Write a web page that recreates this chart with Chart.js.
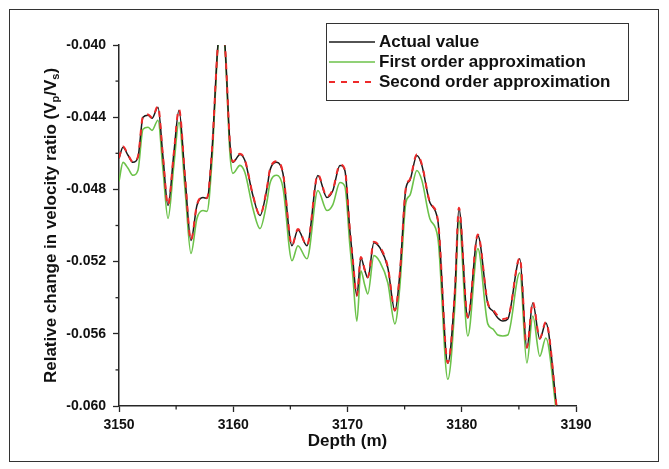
<!DOCTYPE html>
<html>
<head>
<meta charset="utf-8">
<title>Velocity ratio vs depth</title>
<script src="https://cdn.jsdelivr.net/npm/chart.js@4.4.1/dist/chart.umd.min.js"></script>
<style>
  html, body { margin: 0; padding: 0; background: #ffffff; }
  #wrap { width: 669px; height: 469px; position: relative; }
</style>
</head>
<body>
<div id="wrap"><canvas id="ratioChart"></canvas></div>
<script>
// Depth samples (m)
const depths = [
  3150.00, 3150.35, 3150.79, 3151.22, 3151.66, 3152.10, 3152.54, 3152.89, 3153.41, 3153.85,
  3154.29, 3154.80, 3155.25, 3155.80, 3156.30, 3156.82, 3157.35, 3157.70, 3158.14, 3158.66,
  3158.97, 3159.27, 3159.71, 3159.97, 3160.59, 3161.02, 3161.72, 3162.34, 3162.95, 3163.21,
  3163.82, 3164.35, 3165.14, 3165.66, 3166.45, 3167.41, 3168.20, 3168.72, 3169.34, 3169.77,
  3170.21, 3170.47, 3170.82, 3171.17, 3171.52, 3171.78, 3172.31, 3172.83, 3173.53, 3174.15,
  3174.58, 3175.11, 3175.46, 3176.07, 3176.51, 3177.21, 3177.91, 3178.78, 3179.40, 3179.75,
  3180.53, 3181.41, 3182.28, 3182.72, 3183.16, 3183.60, 3184.03, 3185.08, 3185.70, 3186.22,
  3186.83, 3187.36, 3188.32
];

const actualValues = [
  -0.04628, -0.04567, -0.04611, -0.04650, -0.04622, -0.04400, -0.04389, -0.04406, -0.04345, -0.04620,
  -0.04889, -0.04600, -0.04361, -0.04750, -0.05083, -0.04889, -0.04845, -0.04850, -0.04584, -0.04000,
  -0.03920, -0.04000, -0.04545, -0.04650, -0.04606, -0.04640, -0.04834, -0.04945, -0.04795, -0.04695,
  -0.04650, -0.04712, -0.05112, -0.05023, -0.05112, -0.04723, -0.04845, -0.04806, -0.04667, -0.04695,
  -0.05029, -0.05195, -0.05390, -0.05179, -0.05250, -0.05290, -0.05095, -0.05123, -0.05234, -0.05473,
  -0.05268, -0.04795, -0.04750, -0.04612, -0.04667, -0.04873, -0.04973, -0.05763, -0.05362, -0.04906,
  -0.05512, -0.05056, -0.05434, -0.05473, -0.05512, -0.05529, -0.05518, -0.05184, -0.05679, -0.05429,
  -0.05629, -0.05540, -0.06012
];

const firstOrderValues = [
  -0.04756, -0.04650, -0.04683, -0.04722, -0.04694, -0.04467, -0.04456, -0.04473, -0.04417, -0.04692,
  -0.04961, -0.04667, -0.04428, -0.04817, -0.05155, -0.04961, -0.04917, -0.04922, -0.04640, -0.04011,
  -0.03920, -0.04011, -0.04601, -0.04711, -0.04667, -0.04707, -0.04906, -0.05017, -0.04867, -0.04767,
  -0.04722, -0.04790, -0.05195, -0.05112, -0.05184, -0.04806, -0.04917, -0.04884, -0.04762, -0.04784,
  -0.05112, -0.05284, -0.05530, -0.05251, -0.05333, -0.05379, -0.05167, -0.05201, -0.05317, -0.05545,
  -0.05340, -0.04873, -0.04833, -0.04695, -0.04750, -0.04962, -0.05068, -0.05852, -0.05440, -0.04973,
  -0.05612, -0.05128, -0.05545, -0.05573, -0.05607, -0.05612, -0.05607, -0.05262, -0.05762, -0.05501,
  -0.05724, -0.05623, -0.06050
];

const secondOrderValues = [
  -0.04625, -0.04562, -0.04608, -0.04648, -0.04618, -0.04396, -0.04385, -0.04402, -0.04340, -0.04618,
  -0.04887, -0.04597, -0.04356, -0.04748, -0.05081, -0.04886, -0.04842, -0.04847, -0.04581, -0.04000,
  -0.03920, -0.04000, -0.04542, -0.04647, -0.04602, -0.04636, -0.04831, -0.04942, -0.04790, -0.04690,
  -0.04644, -0.04708, -0.05110, -0.05020, -0.05110, -0.04718, -0.04840, -0.04800, -0.04662, -0.04690,
  -0.05026, -0.05192, -0.05388, -0.05175, -0.05246, -0.05286, -0.05090, -0.05118, -0.05230, -0.05470,
  -0.05265, -0.04791, -0.04745, -0.04606, -0.04662, -0.04869, -0.04970, -0.05760, -0.05359, -0.04902,
  -0.05509, -0.05050, -0.05428, -0.05465, -0.05500, -0.05518, -0.05510, -0.05179, -0.05676, -0.05424,
  -0.05625, -0.05535, -0.06012
];

const seriesLabels = ["Actual value", "First order approximation", "Second order approximation"];
const xMajorTicks = [3150, 3160, 3170, 3180, 3190];
const xMinorTicks = [3155, 3165, 3175, 3185];
const yMajorTicks = [-0.060, -0.056, -0.052, -0.048, -0.044, -0.040];
const yMinorTicks = [-0.058, -0.054, -0.050, -0.046, -0.042];

const AXIS_COLOR = "#262626";
const FONT = "'Liberation Sans', Arial, sans-serif";

function toPoints(values) {
  return depths.map((d, i) => ({ x: d, y: values[i] }));
}

// minor ticks, y title with subscripts, outer frame and boxed legend
const decorations = {
  id: "decorations",
  afterDraw(chart) {
    const ctx = chart.ctx;
    const xs = chart.scales.x;
    const ys = chart.scales.y;
    const area = chart.chartArea;

    ctx.save();
    ctx.strokeStyle = AXIS_COLOR;
    ctx.lineWidth = 1.3;
    xMinorTicks.forEach((v) => {
      const px = xs.getPixelForValue(v);
      ctx.beginPath();
      ctx.moveTo(px, area.bottom);
      ctx.lineTo(px, area.bottom + 3.5);
      ctx.stroke();
    });
    yMinorTicks.forEach((v) => {
      const py = ys.getPixelForValue(v);
      ctx.beginPath();
      ctx.moveTo(area.left, py);
      ctx.lineTo(area.left - 3.5, py);
      ctx.stroke();
    });

    // outer figure frame
    ctx.lineWidth = 1;
    ctx.strokeStyle = "#333333";
    ctx.strokeRect(9.5, 9.5, 649, 452);

    // y axis title, rotated, with V_p / V_s subscripts
    const parts = [
      { t: "Relative change in velocity ratio (V", sub: false },
      { t: "p", sub: true },
      { t: "/V", sub: false },
      { t: "s", sub: true },
      { t: ")", sub: false },
    ];
    const mainFont = "bold 17px " + FONT;
    const subFont = "bold 11px " + FONT;
    let total = 0;
    parts.forEach((p) => {
      ctx.font = p.sub ? subFont : mainFont;
      p.w = ctx.measureText(p.t).width;
      total += p.w;
    });
    ctx.translate(50, (area.top + area.bottom) / 2);
    ctx.rotate(-Math.PI / 2);
    ctx.fillStyle = "#111111";
    ctx.textBaseline = "alphabetic";
    ctx.textAlign = "left";
    let cx = -total / 2;
    parts.forEach((p) => {
      ctx.font = p.sub ? subFont : mainFont;
      ctx.fillText(p.t, cx, p.sub ? 9 : 6);
      cx += p.w;
    });
    ctx.restore();

    // legend box
    ctx.save();
    const box = { x: 326.5, y: 23.5, w: 302, h: 77 };
    ctx.fillStyle = "#ffffff";
    ctx.fillRect(box.x, box.y, box.w, box.h);
    ctx.strokeStyle = "#333333";
    ctx.lineWidth = 1;
    ctx.strokeRect(box.x, box.y, box.w, box.h);
    ctx.font = "bold 17px " + FONT;
    ctx.textBaseline = "middle";
    ctx.fillStyle = "#111111";
    const rows = [42, 62, 82];
    chart.data.datasets.forEach((ds, i) => {
      const y = rows[i];
      ctx.strokeStyle = ds.borderColor;
      ctx.lineWidth = ds.borderWidth;
      ctx.setLineDash(ds.borderDash || []);
      ctx.beginPath();
      ctx.moveTo(329, y);
      ctx.lineTo(375, y);
      ctx.stroke();
      ctx.setLineDash([]);
      ctx.fillText(ds.label, 379, y);
    });
    ctx.restore();
  },
};

const ctx = document.getElementById("ratioChart");

new Chart(ctx.getContext("2d"), {
  type: "line",
  data: {
    datasets: [
      {
        label: seriesLabels[0],
        data: toPoints(actualValues),
        borderColor: "#1a1a1a",
        borderWidth: 1.5,
        order: 1,
      },
      {
        label: seriesLabels[1],
        data: toPoints(firstOrderValues),
        borderColor: "#6cc24a",
        borderWidth: 1.6,
        order: 2,
      },
      {
        label: seriesLabels[2],
        data: toPoints(secondOrderValues),
        borderColor: "#ee2a2a",
        borderWidth: 2,
        borderDash: [6, 6],
        order: 0,
      },
    ],
  },
  options: {
    responsive: true,
    maintainAspectRatio: false,
    animation: false,
    layout: {
      padding: { left: 0, right: 93, top: 45, bottom: 0 },
    },
    elements: {
      point: { radius: 0 },
      line: { cubicInterpolationMode: "monotone", fill: false },
    },
    plugins: {
      legend: { display: false },
      tooltip: { enabled: false },
    },
    scales: {
      x: {
        type: "linear",
        min: 3150,
        max: 3190,
        afterBuildTicks: (scale) => {
          scale.ticks = xMajorTicks.map((v) => ({ value: v }));
        },
        afterFit: (scale) => {
          scale.height = 63;
        },
        grid: {
          drawOnChartArea: false,
          drawTicks: true,
          tickLength: 6,
          tickColor: AXIS_COLOR,
          tickWidth: 1.3,
        },
        border: { display: true, color: AXIS_COLOR, width: 1.5 },
        ticks: {
          color: "#111111",
          padding: 5,
          maxRotation: 0,
          font: { family: FONT, size: 14, weight: "bold" },
          callback: (value) => String(value),
        },
        title: {
          display: true,
          text: "Depth (m)",
          color: "#111111",
          font: { family: FONT, size: 17, weight: "bold" },
          padding: { top: 0, bottom: 17 },
        },
      },
      y: {
        type: "linear",
        min: -0.06,
        max: -0.04,
        afterBuildTicks: (scale) => {
          scale.ticks = yMajorTicks.map((v) => ({ value: v }));
        },
        afterFit: (scale) => {
          scale.width = 119;
        },
        grid: {
          drawOnChartArea: false,
          drawTicks: true,
          tickLength: 6,
          tickColor: AXIS_COLOR,
          tickWidth: 1.3,
        },
        border: { display: true, color: AXIS_COLOR, width: 1.5 },
        ticks: {
          color: "#111111",
          padding: 7,
          font: { family: FONT, size: 14, weight: "bold" },
          callback: (value) => Number(value).toFixed(3),
        },
      },
    },
  },
  plugins: [decorations],
});
</script>
</body>
</html>
